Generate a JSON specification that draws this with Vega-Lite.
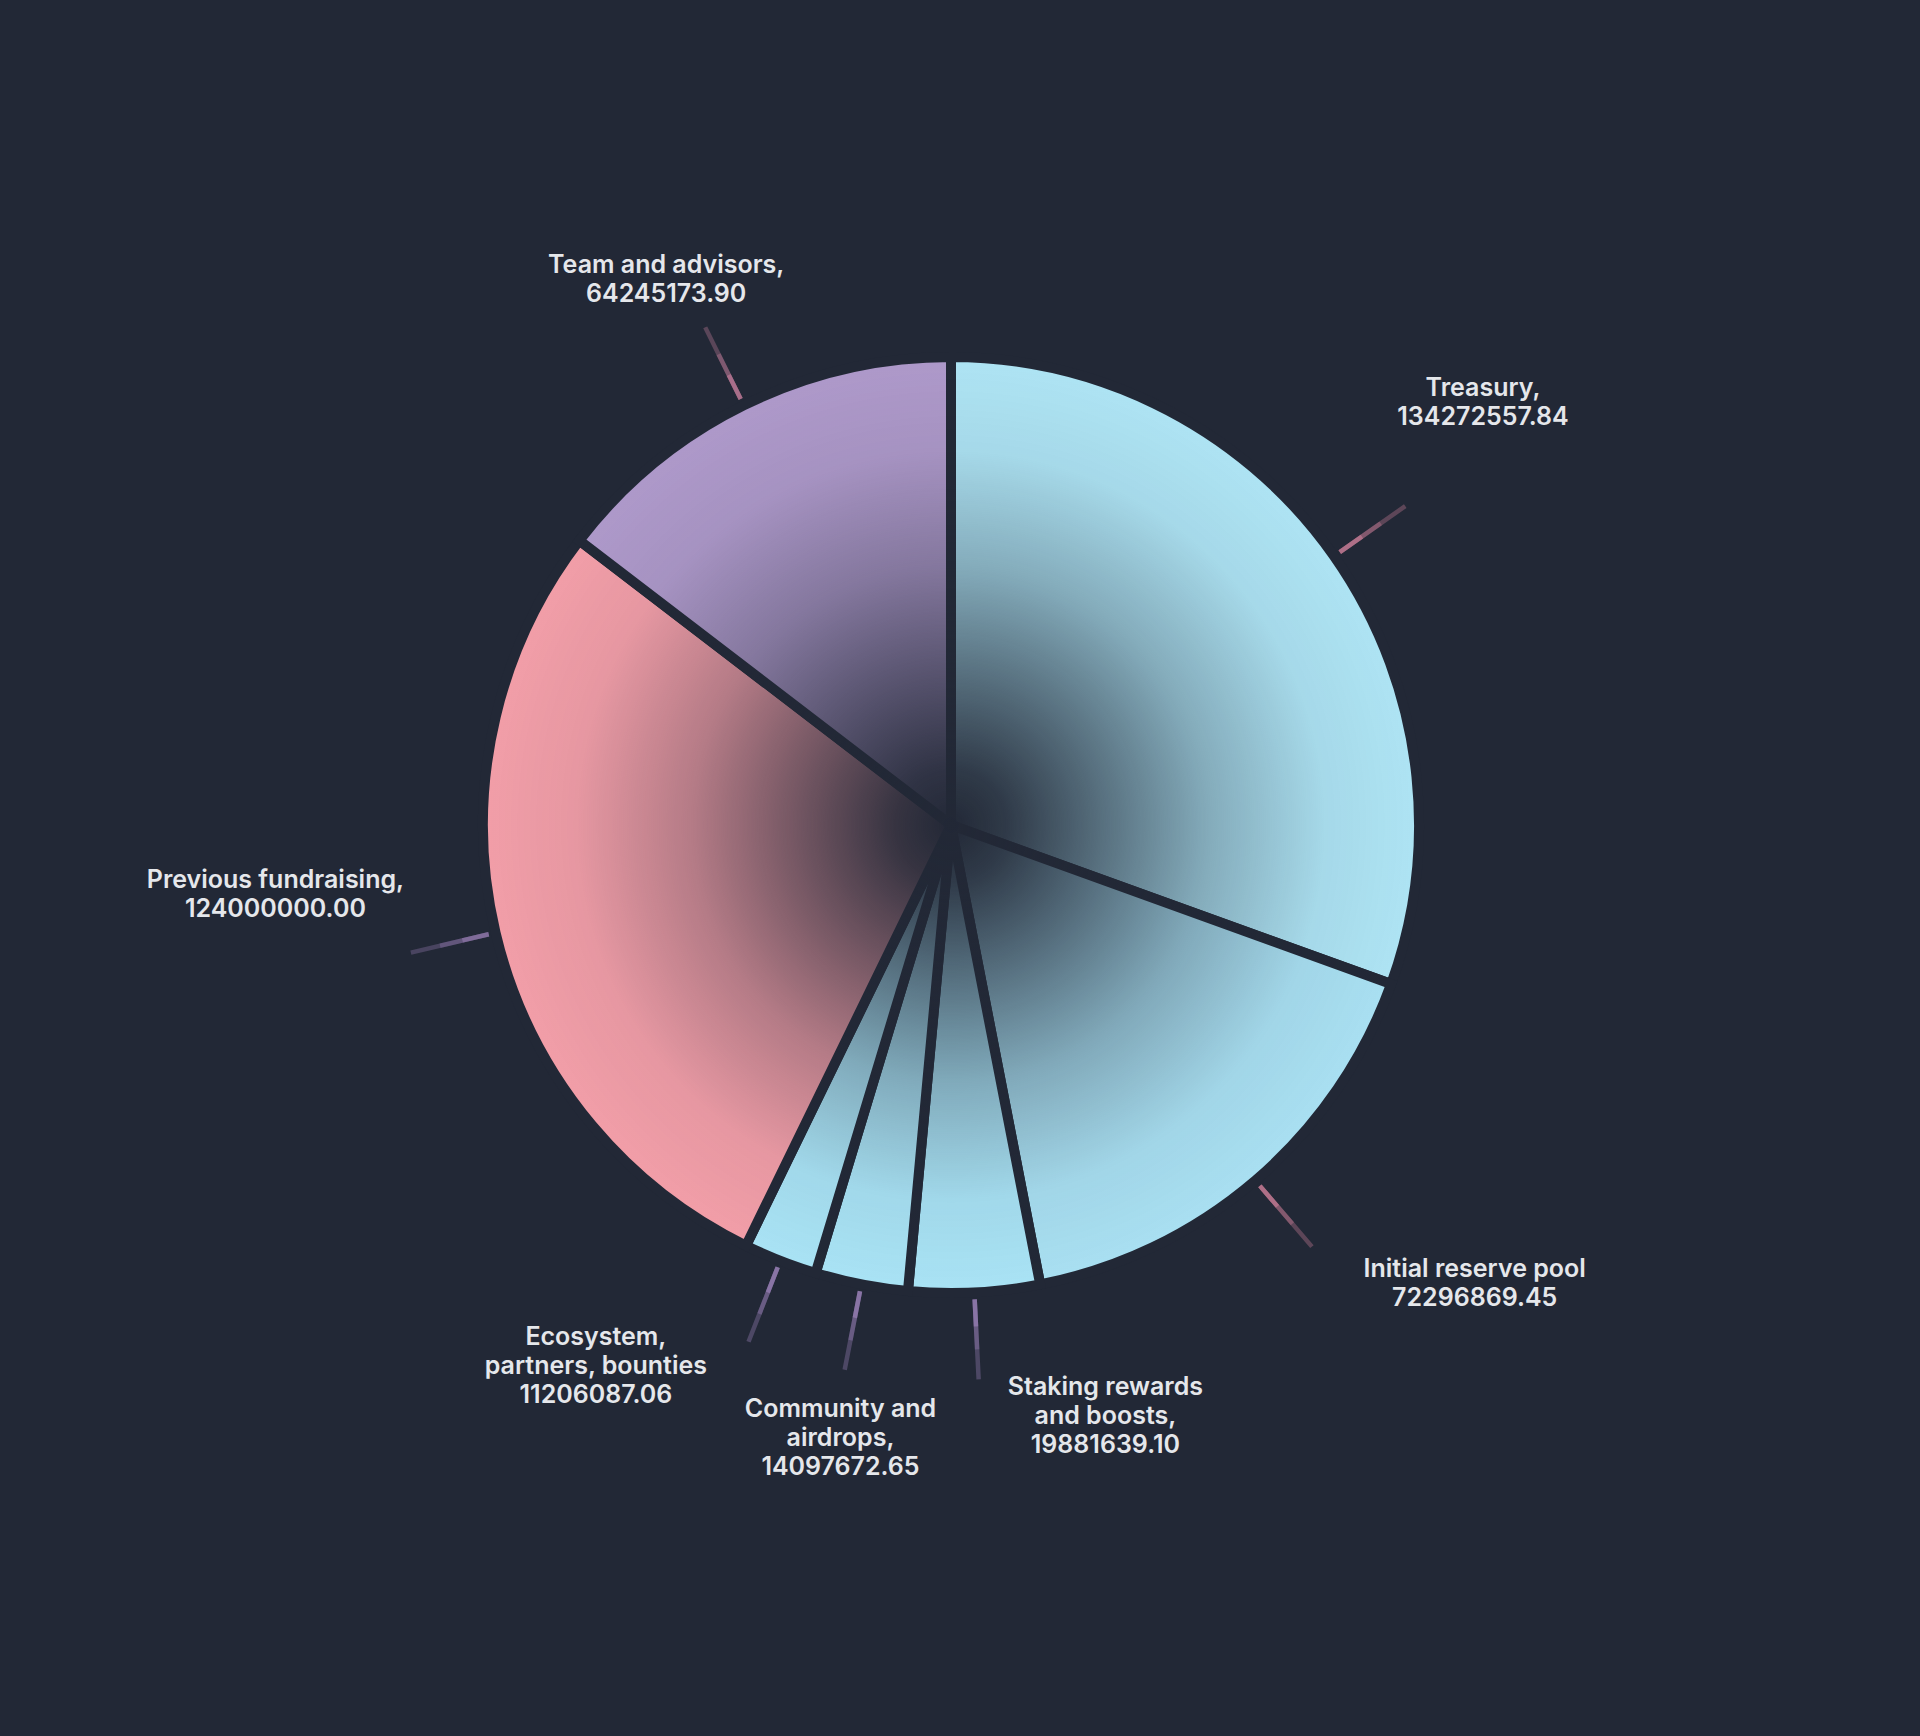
{
  "$schema": "https://vega.github.io/schema/vega-lite/v6.json",
  "width": 1920,
  "height": 1736,
  "autosize": {"type": "fit", "contains": "padding"},
  "padding": {"left": 0, "top": 0, "right": 18, "bottom": 86},
  "background": "#222836",
  "config": {"view": {"stroke": null}},
  "datasets": {
    "alloc": [
      {"idx": 1, "category": "Treasury", "value": 134272557.84, "label": "Treasury,\n134272557.84"},
      {"idx": 2, "category": "Initial reserve pool", "value": 72296869.45, "label": "Initial reserve pool\n72296869.45"},
      {"idx": 3, "category": "Staking rewards and boosts", "value": 19881639.10, "label": "Staking rewards\nand boosts,\n19881639.10"},
      {"idx": 4, "category": "Community and airdrops", "value": 14097672.65, "label": "Community and\nairdrops,\n14097672.65"},
      {"idx": 5, "category": "Ecosystem, partners, bounties", "value": 11206087.06, "label": "Ecosystem,\npartners, bounties\n11206087.06"},
      {"idx": 6, "category": "Previous fundraising", "value": 124000000.00, "label": "Previous fundraising,\n124000000.00"},
      {"idx": 7, "category": "Team and advisors", "value": 64245173.90, "label": "Team and advisors,\n64245173.90"}
    ],
    "disc": [{"whole": 1}]
  },
  "layer": [
    {
      "data": {"name": "alloc"},
      "encoding": {
        "theta": {"field": "value", "type": "quantitative", "stack": true},
        "order": {"field": "idx", "type": "quantitative"}
      },
      "layer": [
        {
          "mark": {"type": "arc", "outerRadius": 468, "stroke": "#222836", "strokeWidth": 10},
          "encoding": {
            "color": {
              "field": "category", "type": "nominal", "legend": null,
              "scale": {
                "domain": ["Treasury", "Initial reserve pool", "Staking rewards and boosts", "Community and airdrops", "Ecosystem, partners, bounties", "Previous fundraising", "Team and advisors"],
                "range": ["#aee4f4", "#a9e0f2", "#a9e3f5", "#a9e3f5", "#a9e3f5", "#f29ea8", "#ae99ca"]
              }
            }
          }
        },
        {
          "mark": {"type": "arc", "padAngle": 3, "innerRadius": 475, "outerRadius": 555, "filled": false, "strokeWidth": 4.5, "strokeOpacity": 0.35, "strokeCap": "butt"},
          "encoding": {
            "stroke": {
              "field": "category", "type": "nominal", "legend": null,
              "scale": {
                "domain": ["Treasury", "Initial reserve pool", "Staking rewards and boosts", "Community and airdrops", "Ecosystem, partners, bounties", "Previous fundraising", "Team and advisors"],
                "range": ["#cc7e98", "#cc7e98", "#9f84bd", "#9f84bd", "#9f84bd", "#9279ae", "#c47d9b"]
              }
            }
          }
        },
        {
          "mark": {"type": "arc", "padAngle": 3, "innerRadius": 475, "outerRadius": 525, "filled": false, "strokeWidth": 4.5, "strokeOpacity": 0.35, "strokeCap": "butt"},
          "encoding": {
            "stroke": {"field": "category", "type": "nominal", "legend": null}
          }
        },
        {
          "mark": {"type": "arc", "padAngle": 3, "innerRadius": 475, "outerRadius": 502, "filled": false, "strokeWidth": 4.5, "strokeOpacity": 0.6, "strokeCap": "butt"},
          "encoding": {
            "stroke": {"field": "category", "type": "nominal", "legend": null}
          }
        },
        {
          "mark": {"type": "text", "radius": 650, "dx": 0, "dy": -64, "font": "Inter", "fontSize": 25, "fontWeight": 600, "lineHeight": 29, "lineBreak": "\n", "color": "#e5e7eb", "align": "center", "baseline": "middle"},
          "encoding": {"text": {"condition": {"test": "datum.category === 'Treasury'", "field": "label"}, "value": ""}}
        },
        {
          "mark": {"type": "text", "radius": 650, "dx": 101, "dy": -50, "font": "Inter", "fontSize": 25, "fontWeight": 600, "lineHeight": 29, "lineBreak": "\n", "color": "#e5e7eb", "align": "center", "baseline": "middle"},
          "encoding": {"text": {"condition": {"test": "datum.category === 'Initial reserve pool'", "field": "label"}, "value": ""}}
        },
        {
          "mark": {"type": "text", "radius": 650, "dx": 122, "dy": -87, "font": "Inter", "fontSize": 25, "fontWeight": 600, "lineHeight": 29, "lineBreak": "\n", "color": "#e5e7eb", "align": "center", "baseline": "middle"},
          "encoding": {"text": {"condition": {"test": "datum.category === 'Staking rewards and boosts'", "field": "label"}, "value": ""}}
        },
        {
          "mark": {"type": "text", "radius": 650, "dx": 14, "dy": -54, "font": "Inter", "fontSize": 25, "fontWeight": 600, "lineHeight": 29, "lineBreak": "\n", "color": "#e5e7eb", "align": "center", "baseline": "middle"},
          "encoding": {"text": {"condition": {"test": "datum.category === 'Community and airdrops'", "field": "label"}, "value": ""}}
        },
        {
          "mark": {"type": "text", "radius": 650, "dx": -118, "dy": -93, "font": "Inter", "fontSize": 25, "fontWeight": 600, "lineHeight": 29, "lineBreak": "\n", "color": "#e5e7eb", "align": "center", "baseline": "middle"},
          "encoding": {"text": {"condition": {"test": "datum.category === 'Ecosystem, partners, bounties'", "field": "label"}, "value": ""}}
        },
        {
          "mark": {"type": "text", "radius": 650, "dx": -43, "dy": -94, "font": "Inter", "fontSize": 25, "fontWeight": 600, "lineHeight": 29, "lineBreak": "\n", "color": "#e5e7eb", "align": "center", "baseline": "middle"},
          "encoding": {"text": {"condition": {"test": "datum.category === 'Previous fundraising'", "field": "label"}, "value": ""}}
        },
        {
          "mark": {"type": "text", "radius": 650, "dx": 3, "dy": 23, "font": "Inter", "fontSize": 25, "fontWeight": 600, "lineHeight": 29, "lineBreak": "\n", "color": "#e5e7eb", "align": "center", "baseline": "middle"},
          "encoding": {"text": {"condition": {"test": "datum.category === 'Team and advisors'", "field": "label"}, "value": ""}}
        }
      ]
    },
    {
      "data": {"name": "disc"},
      "mark": {
        "type": "arc",
        "outerRadius": 468,
        "fill": {
          "gradient": "radial",
          "x1": 0.5, "y1": 0.5, "r1": 0,
          "x2": 0.5, "y2": 0.5, "r2": 0.5,
          "stops": [
            {"offset": 0, "color": "rgba(34,40,54,1)"},
            {"offset": 0.12, "color": "rgba(34,40,54,0.9)"},
            {"offset": 0.3, "color": "rgba(34,40,54,0.65)"},
            {"offset": 0.55, "color": "rgba(34,40,54,0.3)"},
            {"offset": 0.8, "color": "rgba(34,40,54,0.06)"},
            {"offset": 1, "color": "rgba(34,40,54,0)"}
          ]
        }
      },
      "encoding": {
        "theta": {"field": "whole", "type": "quantitative"}
      }
    }
  ],
  "resolve": {"scale": {"theta": "independent"}}
}
